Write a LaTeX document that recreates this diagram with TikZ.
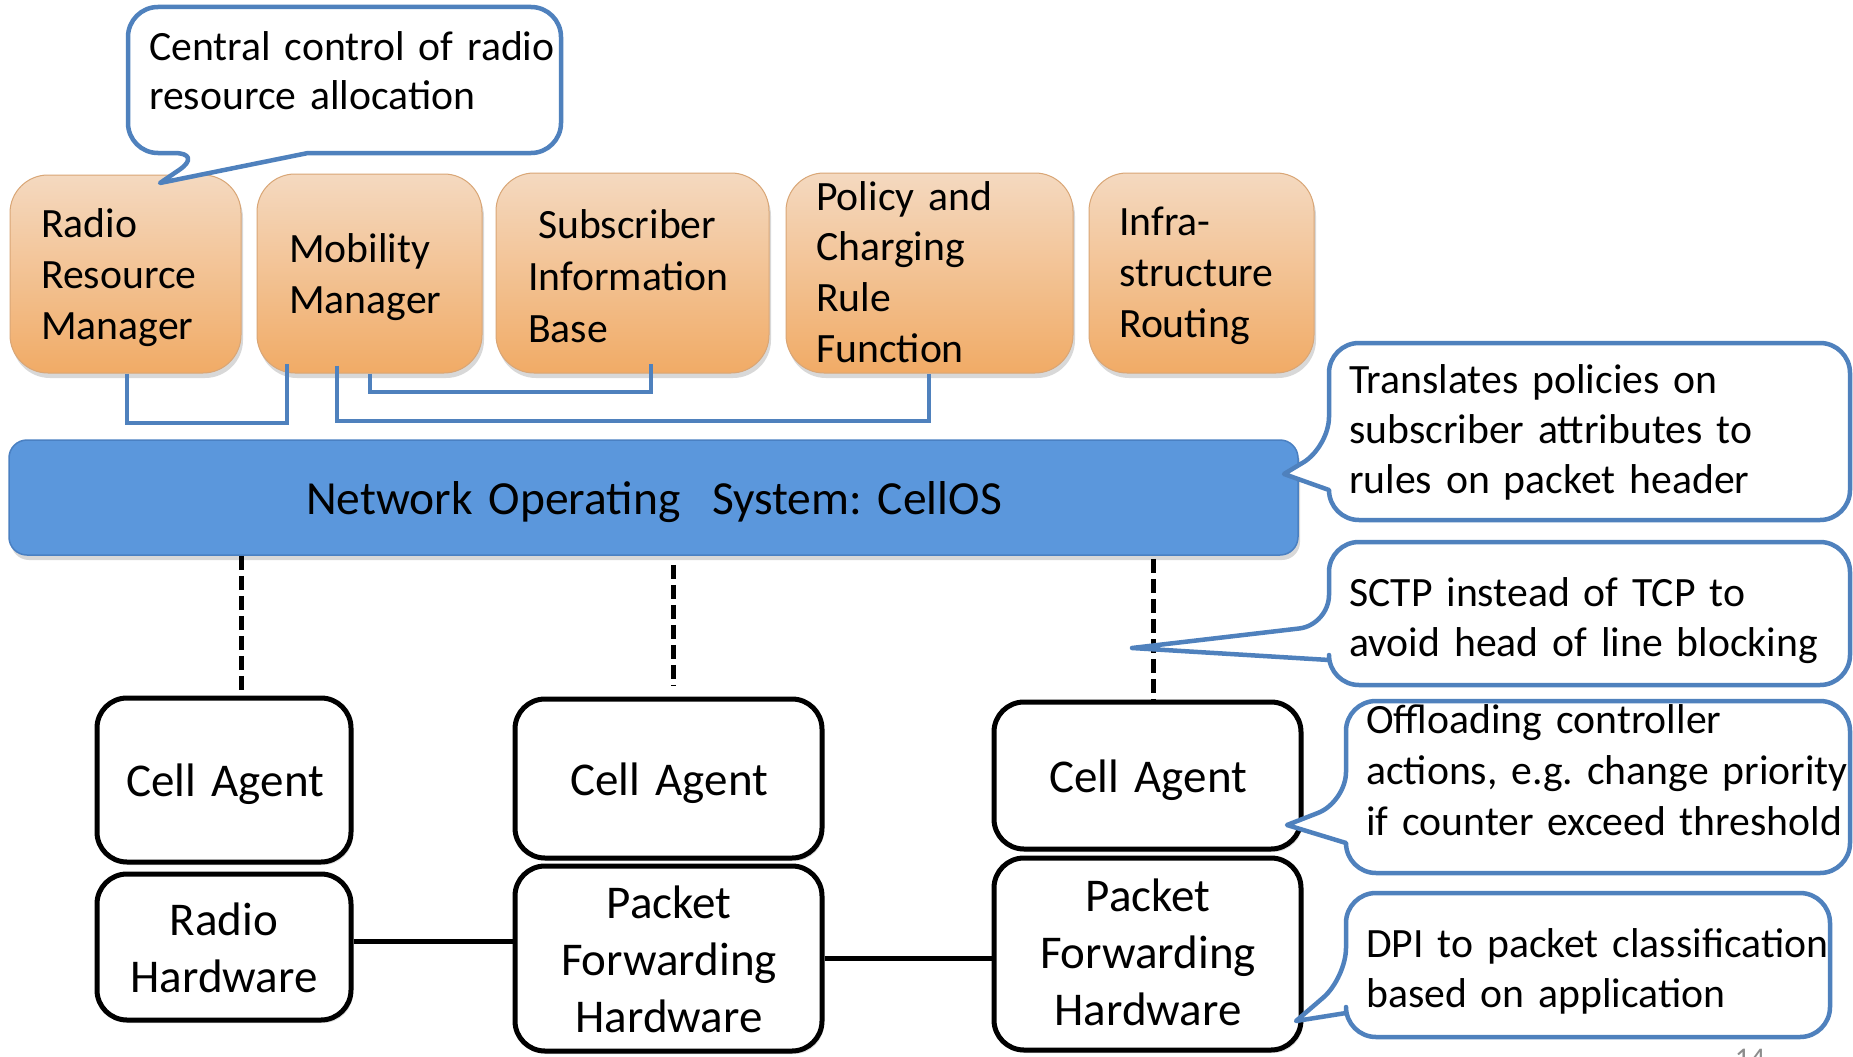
\documentclass[tikz,border=0pt]{standalone}
\usepackage{fontspec}
\setmainfont{Carlito}
\usetikzlibrary{shadows,fit}
\definecolor{cborder}{HTML}{4F81BD}
\definecolor{otop}{HTML}{F4D9C0}
\definecolor{obot}{HTML}{F1AB66}
\definecolor{oedge}{HTML}{D9A676}
\definecolor{barblue}{HTML}{5B97DC}
\definecolor{baredge}{HTML}{4A80C2}
\definecolor{pgnum}{HTML}{8C8C8C}
\tikzset{
  obox/.style={draw=oedge, line width=1pt, rounded corners=38pt, top color=otop, bottom color=obot, inner sep=0pt,
    drop shadow={shadow xshift=2pt, shadow yshift=-5pt, opacity=0.3}},
  kbox/.style={draw=black, line width=5pt, fill=white, rounded corners=30pt, inner sep=0pt,
    drop shadow={shadow xshift=2pt, shadow yshift=-3pt, opacity=0.25}},
  barbox/.style={draw=baredge, line width=1.5pt, fill=barblue, rounded corners=18pt, inner sep=0pt,
    drop shadow={shadow xshift=2pt, shadow yshift=-5pt, opacity=0.3}},
  callout/.style={draw=cborder, line width=4.5pt, fill=white, line join=round},
  bline/.style={draw=cborder, line width=4.5pt},
  kline/.style={draw=black, line width=5pt},
  dline/.style={draw=black, line width=5pt, dash pattern=on 14pt off 6pt},
  ltext/.style={anchor=base west, align=left, text width=520pt, inner sep=0pt},
  ctext/.style={anchor=base, align=center, text width=330pt, inner sep=0pt},
  fa/.style={font=\fontsize{41.7}{51}\selectfont},
  fc/.style={font=\fontsize{41.7}{50}\selectfont},
  fb/.style={font=\fontsize{47}{57}\selectfont},
}
\begin{document}
\frenchspacing
\begin{tikzpicture}[x=1pt,y=-1pt]
\useasboundingbox (0,0) rectangle (1853,1057);
\fill[white] (0,0) rectangle (1853,1057);

% orange function boxes
\node[obox, fit={(10,175) (241,373)}] (b1) {};
\node[obox, fit={(257,174) (482,373)}] (b2) {};
\node[obox, fit={(496,173) (769,373)}] (b3) {};
\node[obox, fit={(786,173) (1073,373)}] (b4) {};
\node[obox, fit={(1089,173) (1314,373)}] (b5) {};
\node[ltext, fa] (b1t) at (41,237) {Radio\\Resource\\Manager};
\node[ltext, fa] (b2t) at (289,262) {Mobility\\Manager};
\node[ltext, font=\fontsize{41.7}{52}\selectfont] (b3t) at (528,238) {\hspace*{10pt}Subscriber\\Information\\Base};
\node[ltext, font=\fontsize{41.7}{50.7}\selectfont] (b4t) at (816,210) {Policy and\\Charging\\Rule\\Function};
\node[ltext, fa] (b5t) at (1119,235) {Infra-\\structure\\Routing};

% network OS bar
\node[barbox, fit={(9,440) (1298,555)}] (nos) {};
\node[ctext, text width=900pt, font=\fontsize{47.5}{57}\selectfont] (nost) at (654,514) {Network Operating\ \ System: CellOS};

% blue connectors
\coordinate (j1) at (127,423);
\coordinate (j2) at (287,423);
\coordinate (j3) at (337,421);
\coordinate (j4) at (929,421);
\coordinate (j5) at (370,392);
\coordinate (j6) at (651,392);
\draw[bline] (b1.south -| j1) -- (j1) -- (j2) -- ([yshift=10pt]b2.south -| j2);
\draw[bline] ([yshift=8pt]b2.south -| j3) -- (j3) -- (j4) -- (b4.south -| j4);
\draw[bline] (b2.south -| j5) -- (j5) -- (j6) -- ([yshift=10pt]b3.south -| j6);

% cell agents and hardware
\node[kbox, fit={(97,698) (351,862)}] (ca1) {};
\node[kbox, fit={(97,874) (351,1020)}] (rh1) {};
\node[kbox, fit={(515,699) (822,858)}] (ca2) {};
\node[kbox, fit={(515,866) (822,1051)}] (pf2) {};
\node[kbox, fit={(994,702) (1301,849)}] (ca3) {};
\node[kbox, fit={(994,858) (1301,1050)}] (pf3) {};
\node[ctext, fb] (ca1t) at (225,796) {Cell Agent};
\node[ctext, fb] (ca2t) at (669,795) {Cell Agent};
\node[ctext, fb] (ca3t) at (1148,792) {Cell Agent};
\node[ctext, fb] (rh1t) at (224,935) {Radio\\Hardware};
\node[ctext, fb] (pf2t) at (669,918) {Packet\\Forwarding\\Hardware};
\node[ctext, fb] (pf3t) at (1148,911) {Packet\\Forwarding\\Hardware};

% dashed control links
\coordinate (d1) at (241,0);
\coordinate (d2) at (673,0);
\coordinate (d3) at (1153,0);
\draw[dline] (nos.south -| d1) -- (ca1.north -| d1);
\draw[dline] ([yshift=-9pt]nos.south -| d2) -- ([yshift=11pt]ca2.north -| d2);
\draw[dline] ([yshift=-3pt]nos.south -| d3) -- (ca3.north -| d3);

% hardware links
\coordinate (h1) at (0,941);
\coordinate (h2) at (0,958);
\draw[kline] (rh1.east |- h1) -- (pf2.west |- h1);
\draw[kline] (pf2.east |- h2) -- (pf3.west |- h2);

% callouts
\draw[callout] (308,153) [rounded corners=30pt] -- (561,153) -- (561,7) -- (128,7) -- (128,153) -- (204,153) [sharp corners] -- (160,183) -- cycle;
\node[ltext, fc] (c0t) at (149,60) {Central control of radio\\resource allocation};

\draw[callout] (1329,490) [rounded corners=30pt] -- (1329,520) -- (1850,520) -- (1850,343) -- (1329,343) -- (1329,447) [sharp corners] -- (1284,474) -- cycle;
\node[ltext, fc] (c1t) at (1349,393) {Translates policies on\\subscriber attributes to\\rules on packet header};

\draw[callout] (1329,660) [rounded corners=30pt] -- (1329,685) -- (1850,685) -- (1850,542) -- (1329,542) -- (1329,625) [sharp corners] -- (1132,648) -- cycle;
\node[ltext, fc] (c2t) at (1349,606) {SCTP instead of TCP to\\avoid head of line blocking};

\draw[callout] (1346,843) [rounded corners=30pt] -- (1346,873) -- (1850,873) -- (1850,701) -- (1346,701) -- (1346,802) [sharp corners] -- (1287,825) -- cycle;
\node[ltext, fa] (c3t) at (1366,733) {Offloading controller\\actions, e.g. change priority\\if counter exceed threshold};

\draw[callout] (1346,1013) [rounded corners=30pt] -- (1346,1037) -- (1830,1037) -- (1830,893) -- (1346,893) -- (1346,978) [sharp corners] -- (1296,1021) -- cycle;
\node[ltext, fc] (c4t) at (1366,957) {DPI to packet classification\\based on application};

% page number (cut off)
\node[anchor=base, inner sep=0pt, text=pgnum, font=\fontsize{30}{36}\selectfont] (pg) at (1750,1068) {14};
\end{tikzpicture}
\end{document}
